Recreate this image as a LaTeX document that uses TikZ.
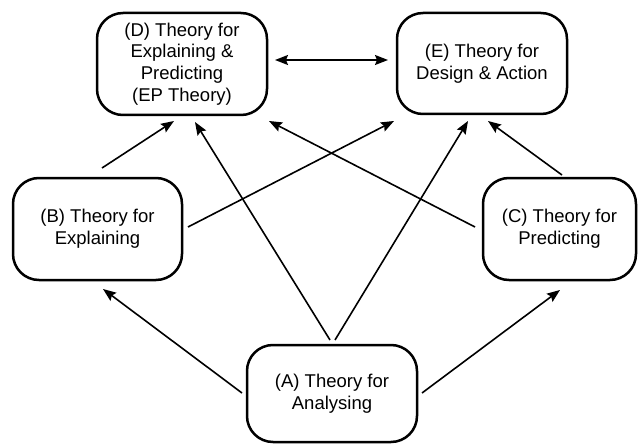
\documentclass[tikz,border=0pt]{standalone}
\usepackage{fontspec}
\setmainfont{Liberation Sans}
\usetikzlibrary{arrows.meta}
\begin{document}
\begin{tikzpicture}[x=1pt,y=-1pt,
  theory/.style={draw, line width=2.5pt, rounded corners=26pt, align=center,
    inner sep=0pt, font=\fontsize{18.5}{21.7}\selectfont},
  link/.style={line width=1.6pt, -{Stealth[length=13pt,width=10pt,inset=2pt]}},
  biglink/.style={line width=1.6pt, {Stealth[length=13pt,width=10pt,inset=2pt]}-{Stealth[length=13pt,width=10pt,inset=2pt]}}]
\useasboundingbox (0,0) rectangle (638,444);

% the five kinds of theory
\node[theory, minimum width=170pt, minimum height=102pt] (D) at (182,64)
  {(D) Theory for\\Explaining \&\\Predicting\\(EP Theory)};
\node[theory, minimum width=170pt, minimum height=101pt] (E) at (482,63.5)
  {(E) Theory for\\Design \& Action};
\node[theory, minimum width=169pt, minimum height=102pt] (B) at (97.5,229)
  {(B) Theory for\\Explaining};
\node[theory, minimum width=153pt, minimum height=102pt] (C) at (559.5,229)
  {(C) Theory for\\Predicting};
\node[theory, minimum width=170pt, minimum height=97pt] (A) at (332,393.5)
  {(A) Theory for\\Analysing};

% links between the theories
\draw[biglink] ([shift={(93,-4)}]D.center) -- ([shift={(-94,-3.5)}]E.center);
\draw[link] ([shift={(4.5,-61)}]B.center) -- ([shift={(-8,57)}]D.center);
\draw[link] ([shift={(-2,-53.5)}]A.center) -- ([shift={(13,58)}]D.center);
\draw[link] ([shift={(-84.5,-2)}]C.center) -- ([shift={(87,57)}]D.center);
\draw[link] ([shift={(90.5,-2)}]B.center) -- ([shift={(-88,57.5)}]E.center);
\draw[link] ([shift={(3,-53.5)}]A.center) -- ([shift={(-14,57.5)}]E.center);
\draw[link] ([shift={(2.5,-54)}]C.center) -- ([shift={(6,57.5)}]E.center);
\draw[link] ([shift={(-90,-0.5)}]A.center) -- ([shift={(5.5,60)}]B.center);
\draw[link] ([shift={(90,-0.5)}]A.center) -- ([shift={(0.5,61)}]C.center);
\end{tikzpicture}
\end{document}
